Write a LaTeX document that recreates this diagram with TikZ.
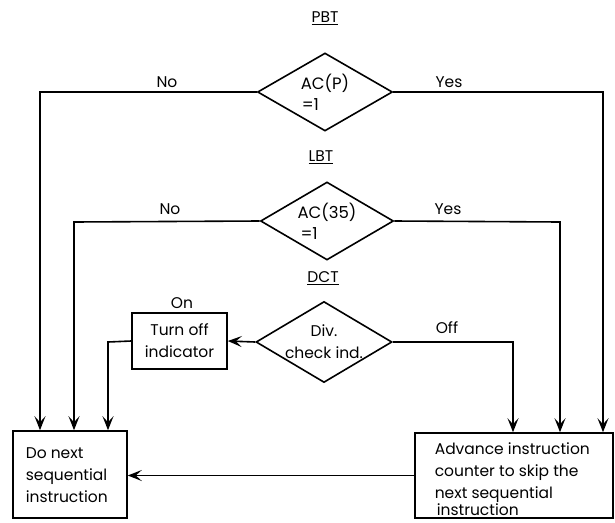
\documentclass[tikz,border=0pt]{standalone}
\usepackage{fontspec}
\setmainfont{Poppins}
\usetikzlibrary{shapes.geometric,arrows.meta}
\begin{document}
\begin{tikzpicture}[x=1pt,y=-1pt,
  line width=1.6pt,
  font=\fontsize{15.5}{22}\selectfont,
  decision/.style={draw,shape=diamond,inner sep=0pt,aspect=1.7,align=center},
  testtext/.style={font=\fontsize{16.5}{21}\selectfont,align=left},
  procbox/.style={draw,rectangle,inner sep=0pt},
  lbl/.style={inner sep=0pt},
  flow/.style={-{Stealth[length=14pt,width=11pt,inset=6pt]}}]
\useasboundingbox (0,0) rectangle (615,522);

% test titles
\node[lbl] (tPBT) at (325,18) {\underline{PBT}};
\node[lbl] (tLBT) at (321,157) {\underline{LBT}};
\node[lbl] (tDCT) at (323,278) {\underline{DCT}};

% decisions
\node[decision,testtext,minimum width=135pt,minimum height=78pt] (pbt) at (325,92) {AC(P)\\\hspace{1pt}=1};
\node[decision,testtext,minimum width=133pt,minimum height=78pt] (lbt) at (327,221) {AC(35)\\\hspace{3pt}=1};
\node[decision,minimum width=136pt,minimum height=81pt] (dct) at (324,342) {Div.\\check ind.};

% process boxes
\node[procbox,minimum width=95pt,minimum height=56pt,align=center] (off) at (179.5,341) {Turn off\\indicator};
\node[procbox,minimum width=114pt,minimum height=87pt] (next) at (70,474.5) {};
\node[lbl,anchor=north west,align=left] (nexttxt) at (25,447) {Do next\\sequential\\instruction};
\node[procbox,minimum width=198pt,minimum height=85pt] (skip) at (514,475.5) {};
\node[lbl,anchor=north west,align=left] (skiptxt) at (434,442) {Advance instruction\\counter to skip the\\next sequential\\[-5pt]\hspace{2pt}instruction};

% branch labels
\node[lbl] (no1) at (167,82) {No};
\node[lbl] (yes1) at (449,82) {Yes};
\node[lbl] (no2) at (170,209) {No};
\node[lbl] (yes2) at (448,209) {Yes};
\node[lbl] (on) at (182,303) {On};
\node[lbl] (offl) at (447,328) {Off};

% junction points
\coordinate (c1) at (40,92);
\coordinate (c2) at (603,92);
\coordinate (c3) at (74,222);
\coordinate (c4) at (560,222);
\coordinate (c5) at (108,342);
\coordinate (c6) at (513,342);

% connectors
\draw[flow] (pbt.west) -- (c1) -- (c1 |- next.north);
\draw[flow] (pbt.east) -- (c2) -- (c2 |- skip.north);
\draw[flow] (lbt.west) -- (c3) -- (c3 |- next.north);
\draw[flow] (lbt.east) -- (c4) -- (c4 |- skip.north);
\draw[flow] (dct.west) -- (off.east);
\draw[flow] (off.west) -- (c5) -- (c5 |- next.north);
\draw[flow] (dct.east) -- (c6) -- (c6 |- skip.north);
\draw[flow] (skip.west) -- (skip.west -| next.east);
\end{tikzpicture}
\end{document}
